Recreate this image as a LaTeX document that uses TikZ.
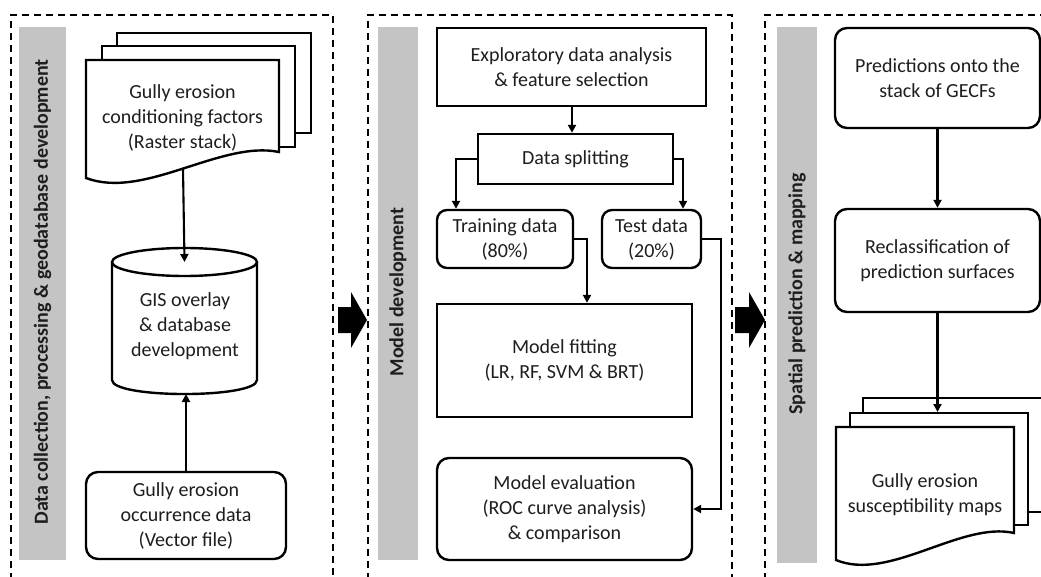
\documentclass[tikz,border=0pt]{standalone}
\usepackage{fontspec}
\setmainfont{Carlito}
\usetikzlibrary{arrows.meta}
\newcommand\myfs{\fontsize{20}{25}\selectfont}
\definecolor{barg}{RGB}{196,196,196}
\definecolor{txtc}{RGB}{30,30,30}
\tikzset{
 box/.style={draw=black, line width=2.4pt, fill=white, align=center, font=\myfs, text=txtc, inner sep=0pt},
 rbox/.style={box, rounded corners=12pt},
 txt/.style={align=center, font=\myfs, text=txtc, inner sep=0pt},
 conn/.style={line width=2.1pt, -{Triangle[length=8pt,width=8pt]}},
 panel/.style={line width=1.5pt, dash pattern=on 7pt off 5pt},
 bar/.style={fill=barg, draw=none},
 barlabel/.style={rotate=90, font=\myfs\bfseries, text=txtc, inner sep=0pt},
 sheet/.style={draw=black, line width=2.4pt, fill=white, line join=miter},
 blockarrow/.style={fill=black, draw=none}
}
\begin{document}
\begin{tikzpicture}[x=1pt,y=-1pt]
\useasboundingbox (0,0) rectangle (1041,577);
\fill[white] (0,0) rectangle (1041,577);

% ---------- panels ----------
\draw[panel] (11,580) -- (11,15) -- (333,15) -- (333,580);
\draw[panel] (368,580) -- (368,15) -- (732,15) -- (732,580);
\draw[panel] (765,580) -- (765,15) -- (1045,15);

% gray bars
\fill[bar] (19,27) rectangle (66,560);
\fill[bar] (378,27) rectangle (418,560);
\fill[bar] (777,27) rectangle (817,563);
\node[barlabel] (lab1) at (42.5,292) {Data collection, processing \& geodatabase development};
\node[barlabel] (lab2) at (398,292) {Model development};
\node[barlabel] (lab3) at (797,294) {Spatial prediction \& mapping};

% block arrows between panels
\fill[blockarrow] (338,307) -- (351,307) -- (351,292) -- (367,320) -- (351,348) -- (351,333) -- (338,333) -- cycle;
\fill[blockarrow] (735,307) -- (749,307) -- (749,292) -- (765,320) -- (749,348) -- (749,333) -- (735,333) -- cycle;

% ---------- panel 1 ----------
\draw[sheet] (117,33) rectangle (311,133);
\draw[sheet] (102,46) rectangle (295,147);
\draw[sheet] (86,60) -- (279,60) -- (279,152) .. controls (221,140) and (144,200) .. (86,178) -- cycle;
\node[txt] (gecf) at (182.5,118) {Gully erosion\\conditioning factors\\(Raster stack)};
\coordinate (gecfbot) at (183,169);

\draw[sheet] (112,262) -- (112,380) .. controls (112,398.7) and (257,398.7) .. (257,380) -- (257,262);
\draw[sheet] (184.5,262) ellipse [x radius=72.5, y radius=14];
\node[txt] (gis) at (185,326) {GIS overlay\\\& database\\development};
\coordinate (gistop) at (184.5,262);
\coordinate (gisbot) at (186,394);

\node[rbox, minimum width=200pt, minimum height=87pt] (occ) at (186,515.5) {Gully erosion\\occurrence data\\(Vector file)};

\draw[conn] (gecfbot) -- (gistop);
\draw[conn] (occ.north) -- (gisbot);

% ---------- panel 2 ----------
\node[box, minimum width=269pt, minimum height=78pt] (explo) at (571.5,67) {Exploratory data analysis\\\& feature selection};
\node[box, minimum width=195pt, minimum height=50pt] (split) at (575.5,159) {Data splitting};
\node[rbox, rounded corners=10pt, minimum width=136pt, minimum height=58pt] (train) at (505,239) {Training data\\(80\%)};
\node[rbox, rounded corners=10pt, minimum width=99pt, minimum height=58pt] (test) at (651.5,239) {Test data\\(20\%)};
\node[box, minimum width=255pt, minimum height=113pt] (fit) at (564.5,360.5) {Model fitting\\(LR, RF, SVM \& BRT)};
\node[rbox, minimum width=255pt, minimum height=102pt] (eval) at (564.5,509) {Model evaluation\\(ROC curve analysis)\\\& comparison};

\coordinate (cL) at (456,0);
\coordinate (cR) at (683,0);
\coordinate (cT) at (587,0);
\coordinate (cE) at (721,0);

\draw[conn] (explo.south -| split.north) ++(-3.5,0) coordinate (eb) -- (eb |- split.north);
\draw[conn] (split.west) -| (cL |- train.north);
\draw[conn] (split.east) -| (cR |- test.north);
\draw[conn] (train.east) -| (cT |- fit.north);
\draw[conn] (test.east) -- (test.east -| cE) |- (eval.east);

% ---------- panel 3 ----------
\node[rbox, minimum width=205pt, minimum height=100pt] (pred) at (937.5,78) {Predictions onto the\\stack of GECFs};
\node[rbox, minimum width=205pt, minimum height=103pt] (recl) at (937.5,260.5) {Reclassification of\\prediction surfaces};

\draw[sheet] (1060,398) -- (863,398) -- (863,512) -- (1060,512);
\draw[sheet] (850,413) rectangle (1028,525);
\draw[sheet] (836,427) -- (1014,427) -- (1014,533) .. controls (961,521) and (889,582) .. (836,560) -- cycle;
\node[txt] (gesm) at (925,495) {Gully erosion\\susceptibility maps};
\coordinate (stacktop) at (937.5,412);

\draw[conn] (pred.south) -- (recl.north);
\draw[conn] (recl.south) -- (stacktop);
\end{tikzpicture}
\end{document}
